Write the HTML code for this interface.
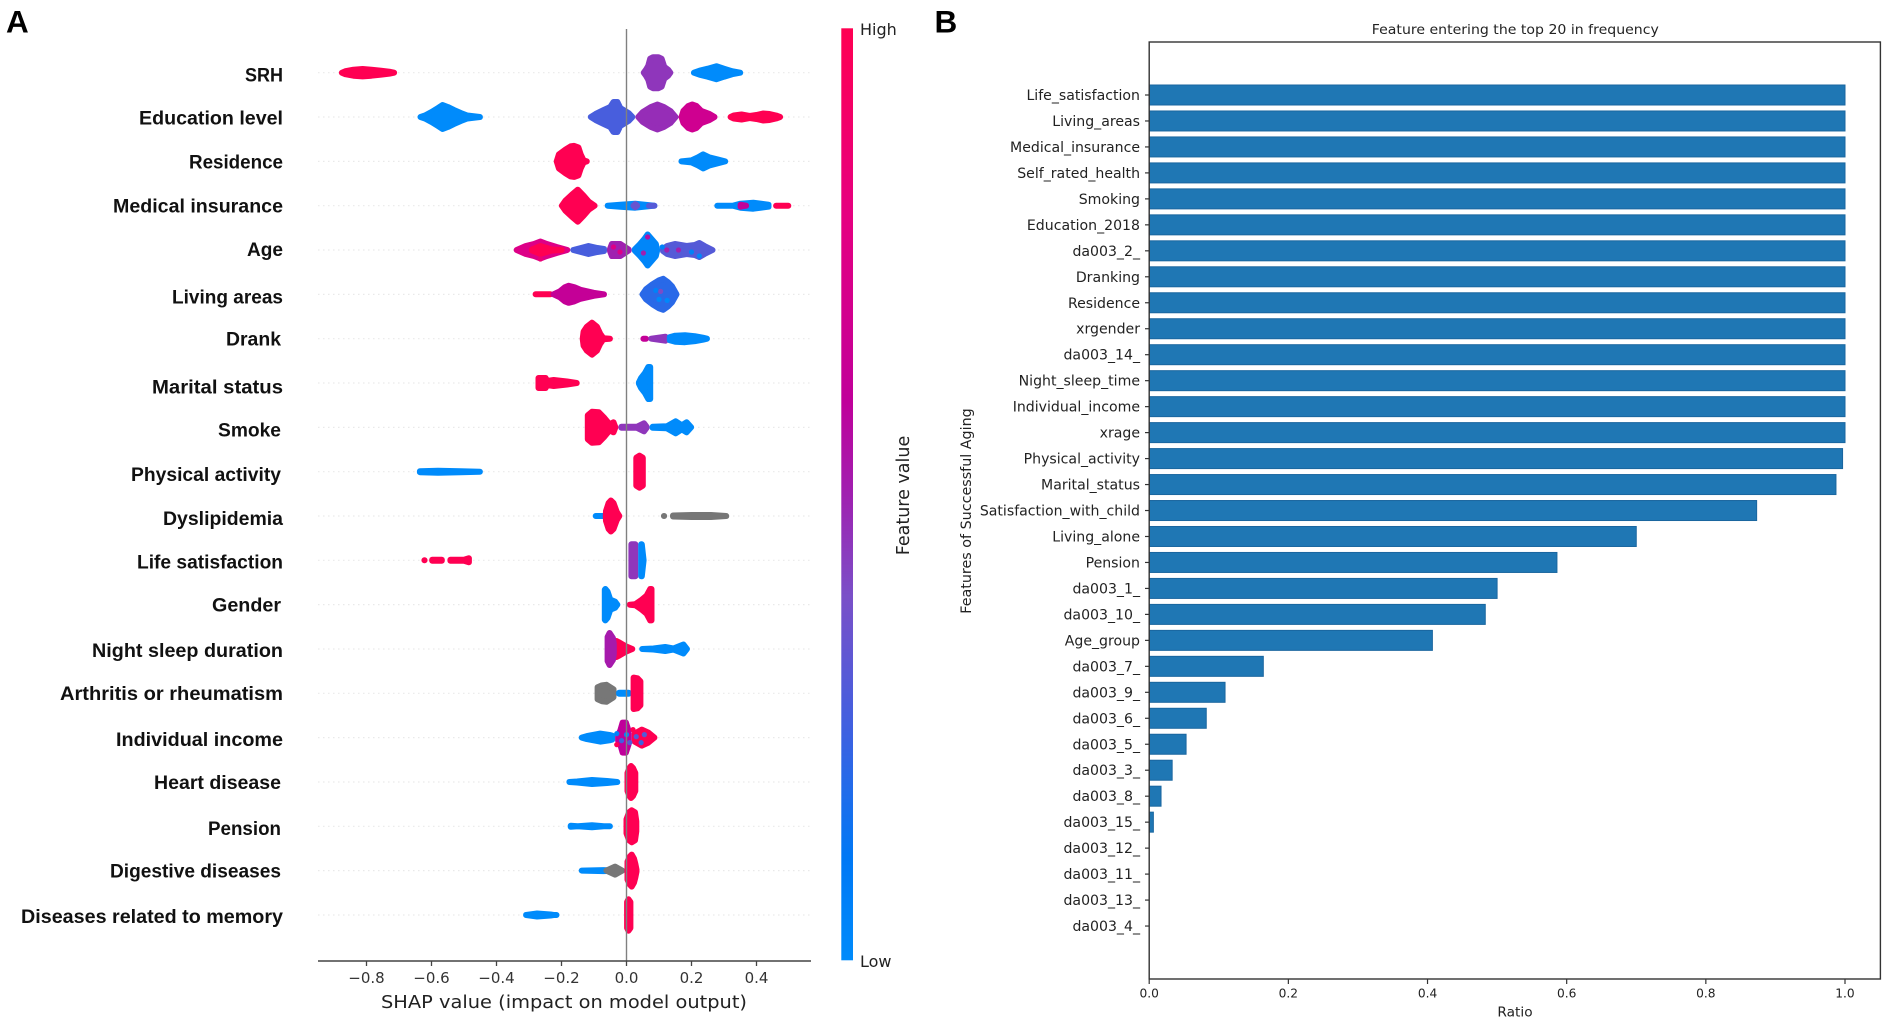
<!DOCTYPE html>
<html lang="en">
<head>
<meta charset="utf-8">
<title>SHAP summary and feature frequency</title>
<style>
html,body{margin:0;padding:0;background:#fff;}
svg{display:block;filter:blur(0.35px);}
text{font-family:"DejaVu Sans","Liberation Sans",sans-serif;}
.bold{font-family:"Liberation Sans",sans-serif;font-weight:bold;}
.feat{font-family:"Liberation Sans",sans-serif;font-weight:bold;font-size:19.5px;fill:#111;text-anchor:end;}
</style>
</head>
<body>
<svg id="figure" xmlns="http://www.w3.org/2000/svg" width="1890" height="1027" viewBox="0 0 1890 1027">
  <defs>
    <linearGradient id="cbarGrad" x1="0" y1="0" x2="0" y2="1">
      <stop offset="0" stop-color="#ff0052"/>
      <stop offset="0.2" stop-color="#e60080"/>
      <stop offset="0.4" stop-color="#c0009a"/>
      <stop offset="0.5" stop-color="#a020b0"/>
      <stop offset="0.61" stop-color="#7a50c8"/>
      <stop offset="0.75" stop-color="#4060e0"/>
      <stop offset="0.89" stop-color="#0078f5"/>
      <stop offset="1" stop-color="#008bfb"/>
    </linearGradient>
  </defs>
  <rect x="0" y="0" width="1890" height="1027" fill="#fff"/>
  <text class="bold" x="6" y="32.7" font-size="31.5" fill="#000">A</text>
  <text class="bold" x="934.5" y="32.7" font-size="31.5" fill="#000">B</text>

  <g id="panelA"></g>

  <g>
    <text class="feat" x="283" y="81.5" textLength="38" lengthAdjust="spacingAndGlyphs">SRH</text>
    <text class="feat" x="283" y="124.5" textLength="144" lengthAdjust="spacingAndGlyphs">Education level</text>
    <text class="feat" x="283" y="168.5" textLength="94" lengthAdjust="spacingAndGlyphs">Residence</text>
    <text class="feat" x="283" y="212.7" textLength="170" lengthAdjust="spacingAndGlyphs">Medical insurance</text>
    <text class="feat" x="283" y="255.8" textLength="36" lengthAdjust="spacingAndGlyphs">Age</text>
    <text class="feat" x="283" y="303.5" textLength="111" lengthAdjust="spacingAndGlyphs">Living areas</text>
    <text class="feat" x="281" y="345.5" textLength="55" lengthAdjust="spacingAndGlyphs">Drank</text>
    <text class="feat" x="283" y="393.4" textLength="131" lengthAdjust="spacingAndGlyphs">Marital status</text>
    <text class="feat" x="281" y="436.5" textLength="63" lengthAdjust="spacingAndGlyphs">Smoke</text>
    <text class="feat" x="281" y="481" textLength="150" lengthAdjust="spacingAndGlyphs">Physical activity</text>
    <text class="feat" x="283" y="525.2" textLength="120" lengthAdjust="spacingAndGlyphs">Dyslipidemia</text>
    <text class="feat" x="283" y="568.5" textLength="146" lengthAdjust="spacingAndGlyphs">Life satisfaction</text>
    <text class="feat" x="281" y="611.5" textLength="69" lengthAdjust="spacingAndGlyphs">Gender</text>
    <text class="feat" x="283" y="657" textLength="191" lengthAdjust="spacingAndGlyphs">Night sleep duration</text>
    <text class="feat" x="283" y="700" textLength="223" lengthAdjust="spacingAndGlyphs">Arthritis or rheumatism</text>
    <text class="feat" x="283" y="746" textLength="167" lengthAdjust="spacingAndGlyphs">Individual income</text>
    <text class="feat" x="281" y="788.8" textLength="127" lengthAdjust="spacingAndGlyphs">Heart disease</text>
    <text class="feat" x="281" y="835" textLength="73" lengthAdjust="spacingAndGlyphs">Pension</text>
    <text class="feat" x="281" y="877.5" textLength="171" lengthAdjust="spacingAndGlyphs">Digestive diseases</text>
    <text class="feat" x="283" y="923" textLength="262" lengthAdjust="spacingAndGlyphs">Diseases related to memory</text>
  </g>

  <rect x="841.3" y="28.3" width="11.7" height="932" fill="url(#cbarGrad)"/>
  <text x="860" y="35" font-size="16" fill="#222">High</text>
  <text x="860" y="967" font-size="16" fill="#222">Low</text>
  <text transform="translate(909,495.5) rotate(-90)" text-anchor="middle" font-size="17.5" fill="#222">Feature value</text>
  <text x="564" y="1008" text-anchor="middle" font-size="18" fill="#222" textLength="366" lengthAdjust="spacingAndGlyphs">SHAP value (impact on model output)</text>

  <g id="panelB"></g>
  <text x="1515.3" y="34" text-anchor="middle" font-size="13.5" fill="#222" textLength="287" lengthAdjust="spacingAndGlyphs">Feature entering the top 20 in frequency</text>
  <text transform="translate(971,511) rotate(-90)" text-anchor="middle" font-size="14.3" fill="#222">Features of Successful Aging</text>
  <text x="1515" y="1016.5" text-anchor="middle" font-size="13.7" fill="#222">Ratio</text>
</svg>

<script>
// ---------- Panel A data: SHAP beeswarm ----------
// Each cluster: f = feature value 0..1 (null = missing, grey); pts = [shap value, half stack height of samples]
const shapTicks = [-0.8,-0.6,-0.4,-0.2,0,0.2,0.4];
const shapTickLabels = ["\u22120.8","\u22120.6","\u22120.4","\u22120.2","0.0","0.2","0.4"];

const swarmSRH = [
  {f:1,pts:[[-0.885,3],[-0.865,4.5],[-0.84,6],[-0.812,6.7],[-0.785,6],[-0.755,5],[-0.73,4],[-0.706,3]]},
  {f:0.45,pts:[[0.044,3],[0.06,6],[0.067,10],[0.073,17],[0.082,18.5],[0.098,18.5],[0.108,17],[0.116,9],[0.128,6],[0.144,3]]},
  {f:0,pts:[[0.198,3],[0.225,5],[0.25,7],[0.277,9.5],[0.3,7],[0.325,4.5],[0.359,3]]}
];
const swarmEducation = [
  {f:0,pts:[[-0.643,3],[-0.62,4.5],[-0.6,8],[-0.58,12],[-0.566,15],[-0.55,13],[-0.531,10],[-0.51,7],[-0.49,4.5],[-0.442,3]]},
  {f:0.27,pts:[[-0.119,3],[-0.095,6],[-0.07,10],[-0.05,13],[-0.04,18],[-0.028,18],[-0.019,12],[0.006,7],[0.027,3]]},
  {f:0.47,pts:[[0.027,3],[0.05,8],[0.075,13],[0.095,15.5],[0.115,13],[0.135,9],[0.16,3]]},
  {f:0.68,pts:[[0.16,3],[0.175,9],[0.19,14],[0.202,15.5],[0.215,14],[0.23,9],[0.255,6],[0.28,3]]},
  {f:1,pts:[[0.311,3],[0.33,4.5],[0.354,5.5],[0.379,4],[0.4,5],[0.42,6.5],[0.44,6],[0.46,4.5],[0.482,3]]}
];
const swarmResidence = [
  {f:1,pts:[[-0.224,3],[-0.208,10],[-0.187,15],[-0.172,18],[-0.161,18.5],[-0.148,17],[-0.141,10],[-0.132,4],[-0.113,3]]},
  {f:0,pts:[[0.16,3],[0.2,4],[0.22,7],[0.236,10],[0.255,7],[0.28,5],[0.313,3]]}
];
const swarmMedical = [
  {f:1,pts:[[-0.208,3],[-0.188,8],[-0.168,14],[-0.15,19],[-0.132,13],[-0.116,7],[-0.089,3]]},
  {f:0,pts:[[-0.067,3],[-0.019,4],[0.027,5],[0.095,3]]},
  {f:0.35,pts:[[0.012,3],[0.027,4.5],[0.042,3]]},
  {f:0.3,pts:[[0.06,3],[0.095,3]]},
  {f:1,pts:[[0.451,3],[0.507,3]]},
  {f:0,pts:[[0.27,3],[0.328,3],[0.351,5],[0.39,6],[0.446,4]]},
  {f:0.6,pts:[[0.351,4],[0.368,3]]}
];
const swarmAge = [
  {f:0.75,pts:[[-0.347,3],[-0.31,7],[-0.285,9],[-0.265,11.5],[-0.245,9],[-0.215,6],[-0.173,3]]},
  {f:1,pts:[[-0.3,3.5],[-0.265,7],[-0.23,3.5],[-0.19,3]]},
  {f:0.27,pts:[[-0.173,3],[-0.14,5],[-0.117,7],[-0.09,5],[-0.06,4]]},
  {f:0.5,pts:[[-0.06,4],[-0.045,9],[-0.019,9],[0.016,3.5]]},
  {f:0.03,pts:[[0.016,3.5],[0.042,9],[0.055,14],[0.065,18.5],[0.077,14],[0.09,9],[0.103,4]]},
  {f:0.3,pts:[[0.103,4],[0.125,7],[0.149,9],[0.185,7],[0.21,8],[0.224,10],[0.24,7],[0.274,3]]}
];
const swarmLiving = [
  {f:1,pts:[[-0.289,3],[-0.225,3]]},
  {f:0.62,pts:[[-0.234,3],[-0.205,6],[-0.19,10],[-0.178,11.5],[-0.16,10],[-0.142,7.5],[-0.101,4.5],[-0.06,3]]},
  {f:0.2,pts:[[0.04,3],[0.06,8],[0.08,13],[0.1,17],[0.113,18.5],[0.128,15],[0.14,11],[0.163,3]]}
];
const swarmDrank = [
  {f:1,pts:[[-0.144,3],[-0.132,10],[-0.122,15],[-0.106,19],[-0.091,15],[-0.081,8],[-0.071,3.5],[-0.042,3]]},
  {f:0.62,pts:[[0.052,3],[0.06,3]]},
  {f:0.45,pts:[[0.067,3],[0.129,5]]},
  {f:0,pts:[[0.124,4.5],[0.15,6],[0.18,6.5],[0.21,5.5],[0.235,4],[0.257,3]]}
];
const swarmMarital = [
  {f:1,pts:[[-0.28,8],[-0.249,8],[-0.244,5],[-0.224,6],[-0.183,4.5],[-0.144,3]]},
  {f:0,pts:[[0.029,3.5],[0.045,8],[0.057,13],[0.067,19],[0.073,19],[0.08,15]]}
];
const swarmSmoke = [
  {f:1,pts:[[-0.125,3],[-0.119,15],[-0.106,18.5],[-0.085,18],[-0.07,13],[-0.052,6],[-0.04,8],[-0.025,3]]},
  {f:0.45,pts:[[-0.025,3.5],[0.032,3.5],[0.054,7],[0.071,3.5]]},
  {f:0,pts:[[0.071,3.5],[0.124,4],[0.151,9],[0.17,5],[0.185,8],[0.208,3]]}
];
const swarmPhysical = [
  {f:0,pts:[[-0.645,3.5],[-0.58,4],[-0.51,3.5],[-0.442,3]]},
  {f:1,pts:[[0.024,5],[0.03,17],[0.04,19],[0.05,17],[0.055,5]]}
];
const swarmDyslipidemia = [
  {f:0,pts:[[-0.104,3],[-0.05,3]]},
  {f:1,pts:[[-0.073,4],[-0.063,8],[-0.055,16],[-0.048,18.5],[-0.04,16],[-0.03,7],[-0.013,3]]},
  {f:null,pts:[[0.115,3],[0.116,3]]},
  {f:null,pts:[[0.134,3.5],[0.2,4],[0.26,4],[0.316,3]]}
];
const swarmLife = [
  {f:1,pts:[[-0.631,3],[-0.612,3]]},
  {f:1,pts:[[-0.607,3.5],[-0.559,3.5]]},
  {f:1,pts:[[-0.551,3.5],[-0.5,3.5],[-0.485,5],[-0.476,3.5]]},
  {f:0.45,pts:[[0.008,15],[0.015,19],[0.027,19],[0.033,15]]},
  {f:0,pts:[[0.036,19],[0.047,19],[0.05,10],[0.062,3]]}
];
const swarmGender = [
  {f:0,pts:[[-0.076,18],[-0.065,18.7],[-0.058,16],[-0.05,8],[-0.035,6],[-0.019,3]]},
  {f:1,pts:[[0.001,3],[0.027,3.5],[0.047,8],[0.062,12],[0.073,18.7],[0.086,18.7]]}
];
const swarmNight = [
  {f:1,pts:[[-0.04,11],[-0.025,10],[-0.004,6],[0.027,3]]},
  {f:0.52,pts:[[-0.065,3],[-0.058,15],[-0.052,19],[-0.042,14],[-0.03,8]]},
  {f:0,pts:[[0.039,3],[0.083,3.5],[0.119,5],[0.144,3.5],[0.175,7.5],[0.195,3]]}
];
const swarmArthritis = [
  {f:null,pts:[[-0.098,3],[-0.089,9],[-0.075,11],[-0.062,11.5],[-0.05,9],[-0.04,7],[-0.032,3]]},
  {f:0,pts:[[-0.032,3.5],[0.016,3.5]]},
  {f:1,pts:[[0.016,12],[0.022,18.7],[0.034,18],[0.052,15]]}
];
const swarmIncome = [
  {f:0,pts:[[-0.147,3],[-0.122,4.5],[-0.081,7],[-0.05,5.5],[-0.035,5]]},
  {f:1,pts:[[0.016,7],[0.047,11],[0.067,8],[0.095,3]]},
  {f:0.6,pts:[[-0.035,6],[-0.019,10],[-0.012,18],[-0.002,18],[0.006,10],[0.016,7]]}
];
const swarmHeart = [
  {f:0,pts:[[-0.185,3],[-0.152,3.5],[-0.106,5],[-0.06,4],[-0.019,3]]},
  {f:1,pts:[[-0.002,3],[0.003,12],[0.009,17],[0.014,19],[0.02,17],[0.027,12],[0.034,3]]}
];
const swarmPension = [
  {f:0,pts:[[-0.181,3.5],[-0.15,3],[-0.106,4],[-0.07,3],[-0.042,3]]},
  {f:1,pts:[[-0.005,3],[0,10],[0.008,17],[0.016,19],[0.026,17],[0.03,8],[0.032,3]]}
];
const swarmDigestive = [
  {f:0,pts:[[-0.147,3],[-0.071,3.5],[-0.015,3]]},
  {f:null,pts:[[-0.071,3],[-0.035,7],[-0.004,3]]},
  {f:1,pts:[[-0.004,4],[0.003,12],[0.01,17],[0.016,19],[0.023,15],[0.027,10],[0.04,4]]}
];
const swarmMemory = [
  {f:0,pts:[[-0.318,3],[-0.275,4.5],[-0.234,3.5],[-0.224,3],[-0.206,3]]},
  {f:1,pts:[[-0.002,5],[0.002,16],[0.006,18.7],[0.012,16],[0.018,5]]}
];
const swarms = [swarmSRH,swarmEducation,swarmResidence,swarmMedical,swarmAge,swarmLiving,swarmDrank,swarmMarital,swarmSmoke,swarmPhysical,swarmDyslipidemia,swarmLife,swarmGender,swarmNight,swarmArthritis,swarmIncome,swarmHeart,swarmPension,swarmDigestive,swarmMemory];

// Individually visible samples inside mixed clusters: [row index, shap, stack offset, feature value]
const mixedSamples = [
  [4,0.065,-13,0.55],[4,0.052,3,0.5],[4,0.124,0,0.5],[4,0.16,0,0.5],[4,-0.04,-3,0.75],[4,-0.02,2,0.75],
  [4,0.11,-3,0.05],[4,0.2,2,0.05],[4,0.224,6,0.02],[4,-0.265,9,0.85],[5,0.105,-3,0.4],[5,0.1,5,0.02],[5,0.125,6,0.02],[5,0.09,-4,0.05],
  [15,-0.03,-4,0.05],[15,-0.015,3,0.25],[15,0,-3,0.02],[15,0.01,5,0.3],[15,0.03,-1,0.3],[15,0.045,5,0.25],[15,0.035,-6,1],[15,0.02,-8,1],[15,-0.03,7,1],[15,0.055,-3,0.3]
];

// ---------- Panel B data: selection frequency ----------
const barFeatures = ["Life_satisfaction","Living_areas","Medical_insurance","Self_rated_health","Smoking","Education_2018","da003_2_","Dranking","Residence","xrgender","da003_14_","Night_sleep_time","Individual_income","xrage","Physical_activity","Marital_status","Satisfaction_with_child","Living_alone","Pension","da003_1_","da003_10_","Age_group","da003_7_","da003_9_","da003_6_","da003_5_","da003_3_","da003_8_","da003_15_","da003_12_","da003_11_","da003_13_","da003_4_"];
const barRatios = [1,1,1,1,1,1,1,1,1,1,1,1,1,1,0.9965,0.987,0.873,0.7,0.586,0.5,0.483,0.407,0.164,0.109,0.082,0.053,0.033,0.017,0.006,0,0,0,0];
const ratioTicks = [0,0.2,0.4,0.6,0.8,1];
const ratioTickLabels = ["0.0","0.2","0.4","0.6","0.8","1.0"];

// ---------- Colour scale ----------
const colorStops = [[0,[0,139,251]],[0.11,[0,120,245]],[0.25,[64,96,224]],[0.39,[122,80,200]],[0.5,[160,32,176]],[0.6,[192,0,154]],[0.8,[230,0,128]],[1,[255,0,82]]];
function featureColor(f){
  if(f===null) return '#777777';
  for(let i=1;i<colorStops.length;i++){
    if(f<=colorStops[i][0]){
      const a=colorStops[i-1],b=colorStops[i],t=(f-a[0])/(b[0]-a[0]);
      const c=a[1].map((v,k)=>Math.round(v+(b[1][k]-v)*t));
      return 'rgb('+c.join(',')+')';
    }
  }
  return 'rgb(255,0,82)';
}

// ---------- Axis functions ----------
const NS='http://www.w3.org/2000/svg';
const xShap=v=>626.5+325*v;
const yRow=i=>72.7+44.33*i;
const spread=h=>h;
const DOT=3;
const xRatio=v=>1149.2+695.8*v;
const yBar=i=>95+25.97*i;
function make(tag,parent,attrs,txt){
  const el=document.createElementNS(NS,tag);
  for(const k in attrs) el.setAttribute(k,attrs[k]);
  if(txt!==undefined) el.textContent=txt;
  parent.appendChild(el);
  return el;
}

// ---------- Draw panel A ----------
const gA=document.getElementById('panelA');
swarms.forEach((clusters,i)=>{
  const guide=make('line',gA,{x1:318,x2:811,y1:yRow(i),y2:yRow(i),stroke:'#e9e9e9','stroke-width':1.2,'stroke-dasharray':'1.5 3.5'});
  
  
});
swarms.forEach((clusters,i)=>{
  clusters.forEach(c=>{
    // measured extents include the dot radius, so pull the end knots in by it
    const xs=c.pts.map(p=>xShap(p[0]));
    const n=xs.length;
    if(xs[n-1]-xs[0]>2*DOT){
      xs[0]=Math.min(xs[0]+DOT,xs[1]);
      xs[n-1]=Math.max(xs[n-1]-DOT,xs[n-2]);
    }
    const top=c.pts.map((p,k)=>xs[k].toFixed(1)+','+(yRow(i)-Math.max(spread(p[1])-DOT,0)).toFixed(1));
    const bot=c.pts.map((p,k)=>xs[k].toFixed(1)+','+(yRow(i)+Math.max(spread(p[1])-DOT,0)).toFixed(1)).reverse();
    const col=featureColor(c.f);
    const blob=make('polygon',gA,{points:top.concat(bot).join(' '),fill:col,stroke:col,'stroke-width':DOT*2,'stroke-linejoin':'round'});
    
    
  });
});
mixedSamples.forEach(s=>{
  const dot=make('circle',gA,{cx:xShap(s[1]),cy:yRow(s[0])+spread(s[2]),r:2.6,fill:featureColor(s[3])});
  
  
});
const zeroLine=make('line',gA,{x1:xShap(0),x2:xShap(0),y1:29,y2:961,stroke:'#808080','stroke-width':1.4});


const axisA=make('line',gA,{x1:318,x2:811,y1:961,y2:961,stroke:'#444','stroke-width':1.6});


shapTicks.forEach((t,i)=>{
  const tick=make('line',gA,{x1:xShap(t),x2:xShap(t),y1:961,y2:966,stroke:'#444','stroke-width':1.3});
  
  
  const lab=make('text',gA,{x:xShap(t),y:983,'text-anchor':'middle','font-size':15,fill:'#333'},shapTickLabels[i]);
  
  
});

// ---------- Draw panel B ----------
const gB=document.getElementById('panelB');
barFeatures.forEach((name,i)=>{
  if(barRatios[i]>0){
    const bar=make('rect',gB,{x:xRatio(0),y:yBar(i)-10,width:xRatio(barRatios[i])-xRatio(0),height:20,fill:'#1f77b4',stroke:'#1a669f','stroke-width':1});
    
    
  }
  const tick=make('line',gB,{x1:1145,x2:xRatio(0),y1:yBar(i),y2:yBar(i),stroke:'#333','stroke-width':1.2});
  
  
  const lab=make('text',gB,{x:1140,y:yBar(i)+5,'text-anchor':'end','font-size':14.1,fill:'#222'},name);
  
  
});
const frame=make('rect',gB,{x:xRatio(0),y:42,width:731.2,height:937,fill:'none',stroke:'#333','stroke-width':1.4});


ratioTicks.forEach((t,i)=>{
  const tick=make('line',gB,{x1:xRatio(t),x2:xRatio(t),y1:979,y2:984,stroke:'#333','stroke-width':1.2});
  
  
  const lab=make('text',gB,{x:xRatio(t),y:997.5,'text-anchor':'middle','font-size':12.2,fill:'#222'},ratioTickLabels[i]);
  
  
});
</script>
</body>
</html>
